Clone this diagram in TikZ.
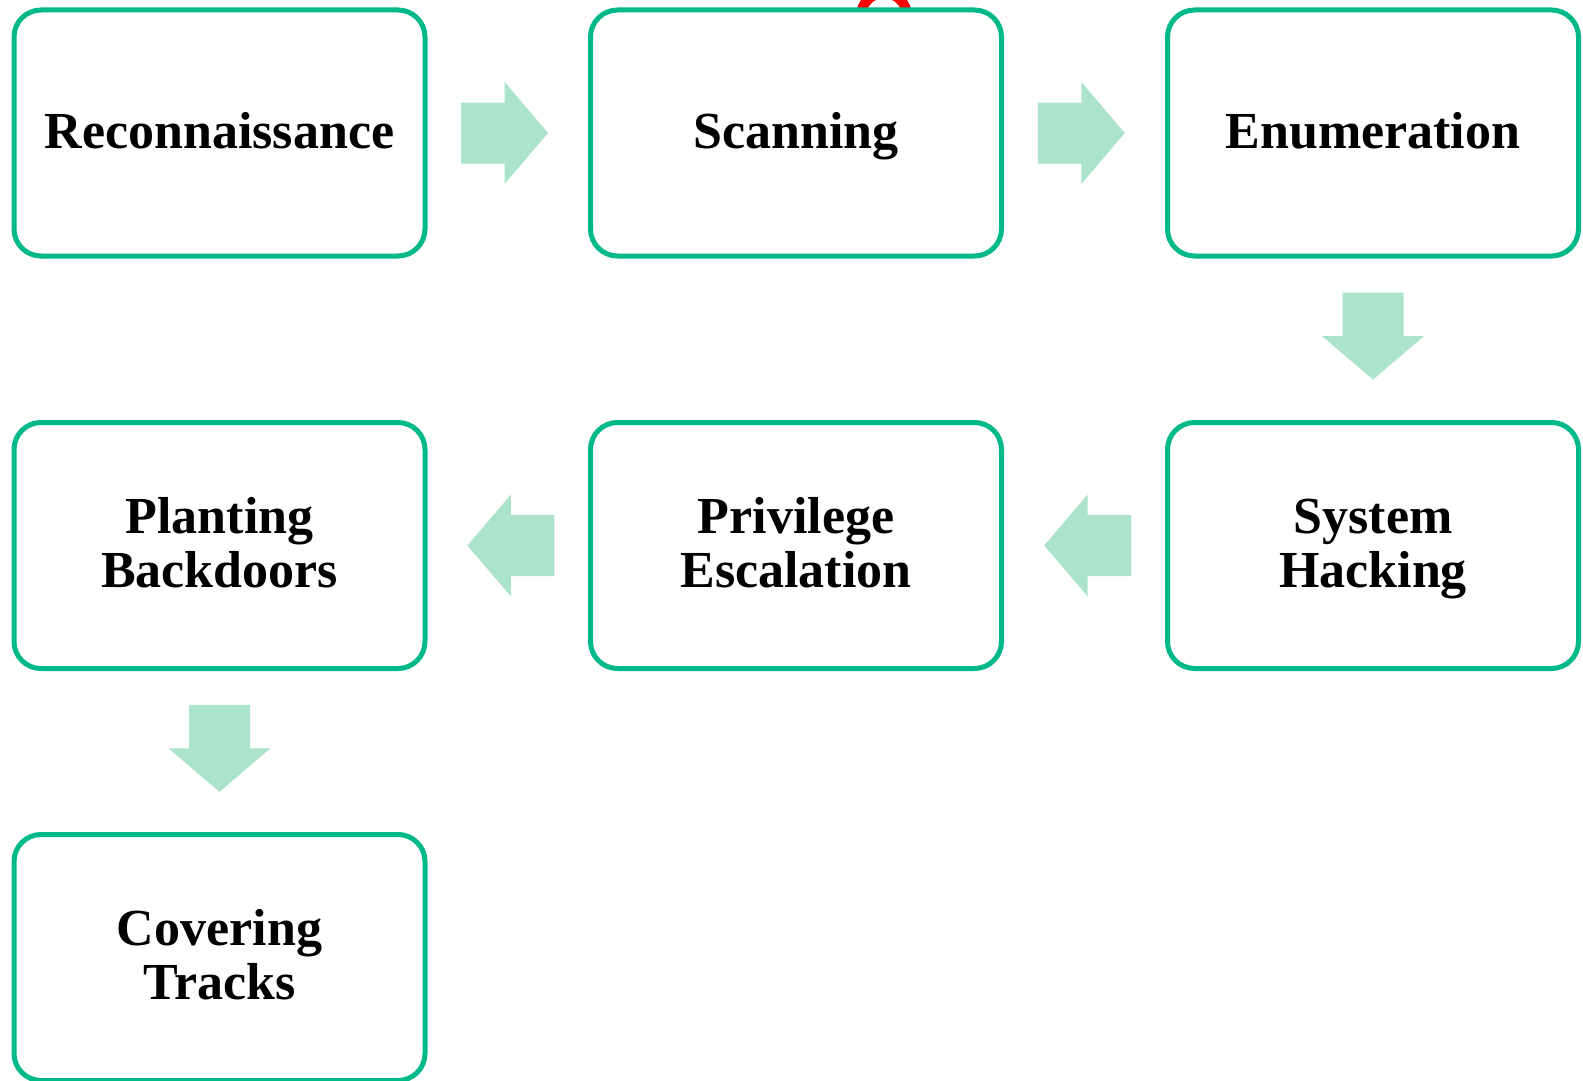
\documentclass[tikz,border=0pt]{standalone}
\usepackage{fontspec}
\setmainfont{Liberation Serif}
\usetikzlibrary{calc}
\definecolor{stageline}{RGB}{0,185,138}
\definecolor{flowfill}{RGB}{171,227,203}
% fixed line height so every label sits on the same baselines
\newcommand\lnstrut{\rule[-11.6pt]{0pt}{53.8pt}}
\tikzset{
  stagebox/.style={draw=stageline, line width=5pt, fill=white, rounded corners=27pt,
    minimum width=411pt, minimum height=246pt, inner sep=0pt, align=center,
    font=\bfseries\fontsize{52}{54}\selectfont},
  pics/blockarrow/.style={code={
    \fill[flowfill] (-43.5,-30.5) -- (0,-30.5) -- (0,-51) -- (43.5,0) -- (0,51)
      -- (0,30.5) -- (-43.5,30.5) -- cycle;}}
}
\begin{document}
\begin{tikzpicture}[x=1pt,y=-1pt]
\useasboundingbox (0,0) rectangle (1583,1081);
\clip (0,0) rectangle (1583,1081);
\fill[white] (0,0) rectangle (1583,1081);
% red ring mark partly hidden behind the second stage
\draw[red, line width=10pt] (884,16) circle[radius=23];
% stages
\node[stagebox] (recon) at (219.5,133) {\lnstrut Reconnaissance};
\node[stagebox] (scan)  at (796,133)   {\lnstrut Scanning};
\node[stagebox] (enum)  at (1373,133)  {\lnstrut Enumeration};
\node[stagebox] (hack)  at (1373,545.5) {\lnstrut System\\\lnstrut Hacking};
\node[stagebox] (priv)  at (796,545.5)  {\lnstrut Privilege\\\lnstrut Escalation};
\node[stagebox] (plant) at (219.5,545.5) {\lnstrut Planting\\\lnstrut Backdoors};
\node[stagebox] (cover) at (219.5,957.5) {\lnstrut Covering\\\lnstrut Tracks};
% block arrows between stages
\pic at ($(recon.east)!0.48!(scan.west)$) {blockarrow};
\pic at ($(scan.east)!0.48!(enum.west)$) {blockarrow};
\pic[rotate=-90] at ($(enum.south)!0.48!(hack.north)$) {blockarrow};
\pic[rotate=180] at ($(hack.west)!0.48!(priv.east)$) {blockarrow};
\pic[rotate=180] at ($(priv.west)!0.48!(plant.east)$) {blockarrow};
\pic[rotate=-90] at ($(plant.south)!0.48!(cover.north)$) {blockarrow};
\end{tikzpicture}
\end{document}
